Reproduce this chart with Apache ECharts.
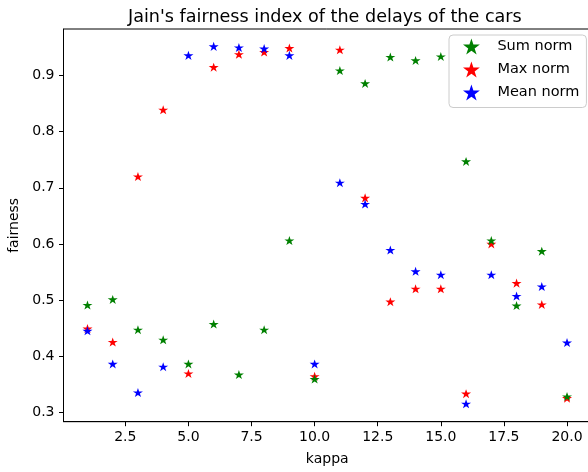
<!DOCTYPE html>
<html>
<head>
<meta charset="utf-8">
<script src="https://cdn.jsdelivr.net/npm/echarts@6/dist/echarts.min.js"></script>
<style>html,body{margin:0;padding:0;background:#fff}#c{width:588px;height:472px}</style>
</head>
<body>
<div id="c"></div>
<script>
const kappa = [1,2,3,4,5,6,7,8,9,10,11,12,13,14,15,16,17,18,19,20];
const sumNorm  = [0.491,0.501,0.447,0.429,0.386,0.457,0.367,0.447,0.606,0.359,0.909,0.886,0.933,0.927,0.934,0.747,0.606,0.490,0.587,0.328];
const maxNorm  = [0.449,0.425,0.720,0.839,0.369,0.915,0.938,0.942,0.949,0.364,0.946,0.682,0.497,0.520,0.520,0.333,0.600,0.530,0.492,0.325];
const meanNorm = [0.445,0.386,0.335,0.381,0.936,0.952,0.950,0.948,0.936,0.386,0.709,0.671,0.589,0.551,0.545,0.315,0.545,0.507,0.524,0.424];
const xTicks = [2.5,5,7.5,10,12.5,15,17.5,20];
const yTicks = [0.3,0.4,0.5,0.6,0.7,0.8,0.9];

const STAR = 'path://M100,0 L122.45,69.1 L195.1,69.1 L136.33,111.8 L158.8,180.9 L100,138.2 L41.2,180.9 L63.67,111.8 L4.9,69.1 L77.55,69.1 Z';
const FONT = 'DejaVu Sans';
const pairs = arr => kappa.map((k,i)=>[k, arr[i]]);

const chart = echarts.init(document.getElementById('c'), null, {renderer:'canvas'});
chart.setOption({
  animation: false,
  backgroundColor: '#fff',
  title: {
    text: "Jain's fairness index of the delays of the cars",
    left: 128, top: 8, padding: 0,
    textStyle: {fontFamily: FONT, fontSize: 17.6, fontWeight: 'normal', color: '#000'}
  },
  legend: {
    orient: 'vertical', left: 449, top: 35,
    padding: [3.5, 7, 7, 14],
    itemWidth: 42, itemHeight: 16, itemGap: 7,
    symbolKeepAspect: true,
    backgroundColor: 'rgba(255,255,255,0.8)',
    borderColor: '#cccccc', borderWidth: 1, borderRadius: 4,
    textStyle: {fontFamily: FONT, fontSize: 14.5, color: '#000', lineHeight: 15},
    data: [
      {name: 'Sum norm', icon: STAR},
      {name: 'Max norm', icon: STAR},
      {name: 'Mean norm', icon: STAR}
    ]
  },
  grid: {left: 63.5, top: 29, right: -3, bottom: 50.3, containLabel: false, outerBoundsMode: 'none',
         show: true, borderColor: '#000', borderWidth: 1, backgroundColor: 'transparent'},
  xAxis: {
    type: 'value', min: 0.05, max: 20.95,
    name: 'kappa', nameLocation: 'middle', nameGap: 31,
    nameTextStyle: {fontFamily: FONT, fontSize: 14, color: '#000', verticalAlign: 'top'},
    axisLine: {show: true, onZero: false, lineStyle: {color: '#000', width: 1}},
    axisTick: {show: true, inside: false, length: 4.5, customValues: xTicks, lineStyle: {color: '#000'}},
    axisLabel: {customValues: xTicks, margin: 9, formatter: v => v.toFixed(1),
                fontFamily: FONT, fontSize: 14, color: '#000'},
    splitLine: {show: false}
  },
  yAxis: {
    type: 'value', min: 0.283, max: 0.983,
    name: 'fairness', nameLocation: 'middle', nameGap: 42, nameRotate: 90,
    nameTextStyle: {fontFamily: FONT, fontSize: 14, color: '#000'},
    axisLine: {show: true, onZero: false, lineStyle: {color: '#000', width: 1}},
    axisTick: {show: true, inside: false, length: 4.5, customValues: yTicks, lineStyle: {color: '#000'}},
    axisLabel: {customValues: yTicks, margin: 9, formatter: v => v.toFixed(1),
                fontFamily: FONT, fontSize: 14, color: '#000'},
    splitLine: {show: false}
  },
  series: [
    {name: 'Sum norm', type: 'scatter', data: pairs(sumNorm), symbol: STAR, symbolSize: [10, 9.5],
     symbolKeepAspect: true, itemStyle: {color: '#008000', opacity: 1}, z: 3},
    {name: 'Max norm', type: 'scatter', data: pairs(maxNorm), symbol: STAR, symbolSize: [10, 9.5],
     symbolKeepAspect: true, itemStyle: {color: '#ff0000', opacity: 1}, z: 2},
    {name: 'Mean norm', type: 'scatter', data: pairs(meanNorm), symbol: STAR, symbolSize: [10, 9.5],
     symbolKeepAspect: true, itemStyle: {color: '#0000ff', opacity: 1}, z: 4}
  ]
});
</script>
</body>
</html>
